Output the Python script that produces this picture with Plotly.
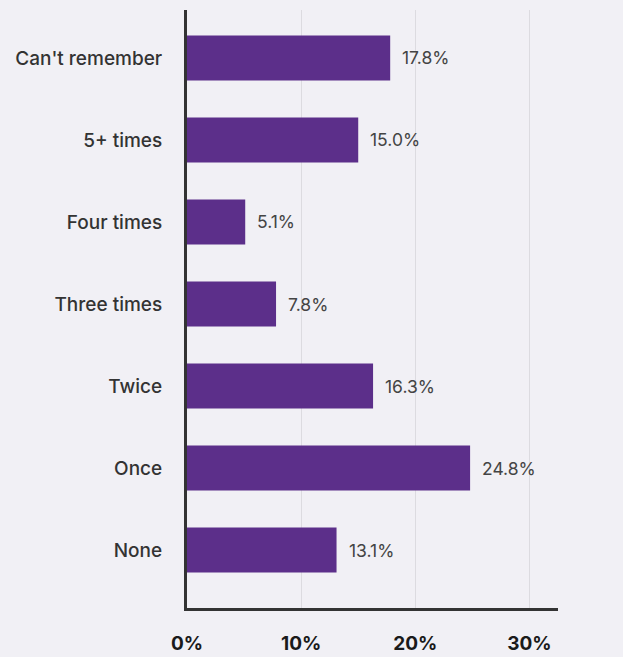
import plotly.graph_objects as go

# Number of times, top to bottom as shown
categories = ["Can't remember", "5+ times", "Four times", "Three times", "Twice", "Once", "None"]
shares = [17.8, 15.0, 5.1, 7.8, 16.3, 24.8, 13.1]
tick_values = [0, 10, 20, 30]
tick_labels = ["0%", "10%", "20%", "30%"]

bg = "#f1f0f5"
bar_color = "#5c2f8a"

fig = go.Figure(
    go.Bar(
        x=shares,
        y=categories,
        orientation="h",
        width=0.55,
        marker=dict(color=bar_color, line=dict(width=0)),
        hoverinfo="x+y",
    )
)

# Percentage labels just past the end of each bar
for cat, v in zip(categories, shares):
    fig.add_annotation(
        x=v,
        y=cat,
        text=f"{v:.1f}%",
        showarrow=False,
        xanchor="left",
        yanchor="middle",
        xshift=10,
        font=dict(family="Inter", size=17.5, color="#444444"),
    )

fig.update_layout(
    width=623,
    height=657,
    paper_bgcolor=bg,
    plot_bgcolor=bg,
    margin=dict(l=187, r=65, t=10, b=49),
    showlegend=False,
)

fig.update_xaxes(
    range=[0, 32.5],
    tickvals=tick_values,
    ticktext=tick_labels,
    tickfont=dict(family="Inter", size=19, color="#1a1a1a", weight="bold"),
    showgrid=True,
    gridcolor="#dcdbe0",
    gridwidth=1,
    zeroline=False,
    showline=True,
    linecolor="#333333",
    linewidth=3,
    ticks="",
    ticklabelstandoff=16,
    automargin=False,
    fixedrange=True,
)

fig.update_yaxes(
    categoryorder="array",
    categoryarray=categories[::-1],
    range=[-0.707, 6.585],
    tickfont=dict(family="Inter", size=19, color="#333333", weight=500),
    showgrid=False,
    zeroline=False,
    showline=True,
    linecolor="#333333",
    linewidth=3,
    ticks="",
    ticklabelstandoff=18,
    automargin=False,
    fixedrange=True,
)

fig.write_html("out.html")
